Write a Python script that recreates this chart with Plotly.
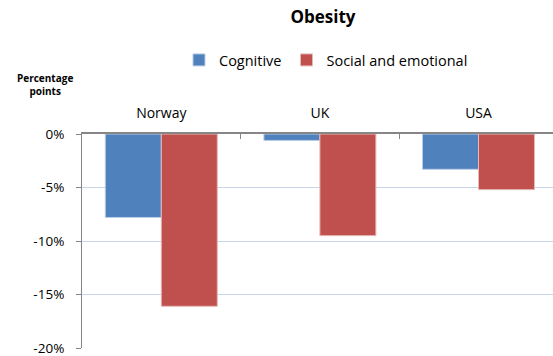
import plotly.graph_objects as go

categories = ["Norway", "UK", "USA"]
cognitive = [-7.8, -0.6, -3.3]
social_emotional = [-16.1, -9.5, -5.2]
y_ticks = [0, -5, -10, -15, -20]
y_tick_labels = ["0%", "-5%", "-10%", "-15%", "-20%"]

FONT = "Open Sans"

fig = go.Figure()
fig.add_trace(go.Bar(x=categories, y=cognitive, name="Cognitive",
                     marker=dict(color="#4f81bd", line=dict(color="#b9cde5", width=1))))
fig.add_trace(go.Bar(x=categories, y=social_emotional, name="Social and emotional",
                     marker=dict(color="#c0504d", line=dict(color="#e6b9b8", width=1))))

W, H = 553, 356
l, r, t, b = 82, 0, 134, 8
plot_w = W - l - r
plot_h = H - t - b
cat_px = 158.6
x_right = -0.5 + plot_w / cat_px

fig.update_layout(
    width=W, height=H,
    margin=dict(l=l, r=r, t=t, b=b, autoexpand=False),
    paper_bgcolor="white", plot_bgcolor="white",
    font=dict(family=FONT, color="black"),
    barmode="group", bargap=0.294, bargroupgap=0,
    title=dict(text="<b>Obesity</b>", x=(323 - l) / plot_w, xanchor="center", xref="paper",
               y=1 - 17 / H, yanchor="middle", yref="container",
               font=dict(size=17, family=FONT)),
    legend=dict(orientation="h", x=(326 - l) / plot_w, xanchor="center",
                y=(H - b - 60) / plot_h, yanchor="middle",
                font=dict(size=14.5, family=FONT), itemwidth=30,
                traceorder="normal", bgcolor="rgba(0,0,0,0)"),
    showlegend=True,
)
fig.update_xaxes(
    type="category", range=[-0.5, x_right], side="top",
    showline=True, linecolor="#868686", linewidth=1.5,
    ticks="inside", tickson="boundaries", ticklen=5, tickcolor="#868686",
    tickfont=dict(size=14, family=FONT), showgrid=False, zeroline=False,
    ticklabelstandoff=9,
)
fig.update_yaxes(
    range=[-20, 0], tickvals=y_ticks, ticktext=y_tick_labels,
    showline=True, linecolor="#868686", linewidth=1,
    ticks="outside", ticklen=5, tickcolor="#868686",
    showgrid=True, gridcolor="#c6d5ea", gridwidth=1, zeroline=False,
    tickfont=dict(size=13.5, family=FONT), ticklabelstandoff=9,
    ticklabeloverflow="allow",
)
fig.add_annotation(text="<b>Percentage<br>points</b>", xref="paper", yref="paper",
                   x=(45 - l) / plot_w, y=(H - b - 85) / plot_h,
                   xanchor="center", yanchor="middle", showarrow=False,
                   font=dict(size=10, family=FONT), align="center")

fig.write_html("out.html")
